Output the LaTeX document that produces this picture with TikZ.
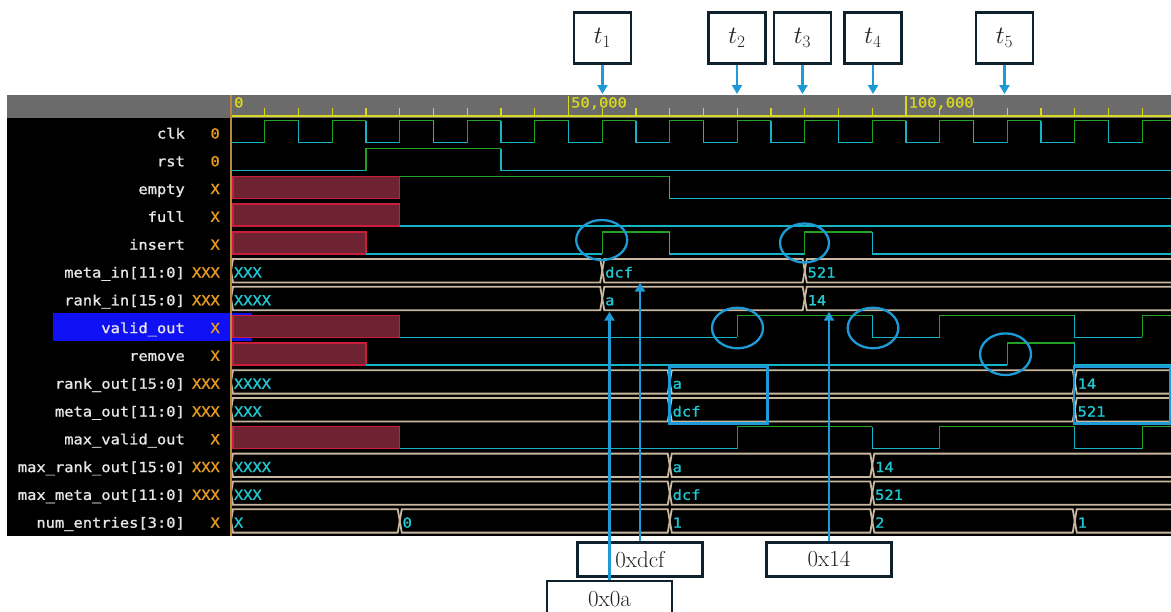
\documentclass[tikz,border=0pt]{standalone}
\usepackage{fontspec}
\newfontfamily\wavefont[FakeStretch=1.1,FakeBold=1.2]{DejaVu Sans Mono}
\usetikzlibrary{arrows.meta,shapes.geometric}

\definecolor{rulerC}{HTML}{6B6B6B}
\definecolor{tickC}{HTML}{D8D820}
\definecolor{sepC}{HTML}{B8863C}
\definecolor{hiC}{HTML}{22A022}
\definecolor{loC}{HTML}{14B4C6}
\definecolor{busC}{HTML}{C8B8A0}
\definecolor{valC}{HTML}{22C6D0}
\definecolor{xfillC}{HTML}{6E2232}
\definecolor{xlineC}{HTML}{C81E3C}
\definecolor{nameC}{HTML}{E6E6E6}
\definecolor{stateC}{HTML}{E89A1E}
\definecolor{selC}{HTML}{1010F4}
\definecolor{markC}{HTML}{1E9AD6}
\definecolor{boxC}{HTML}{10212E}
\definecolor{callC}{HTML}{222222}

\tikzset{
  hi/.style={draw=hiC, line width=1.4pt},
  lo/.style={draw=loC, line width=1.4pt},
  busline/.style={draw=busC, line width=1.8pt, line join=miter},
  busval/.style={text=valC, font=\wavefont\fontsize{14}{15}\selectfont, anchor=base west, inner sep=0pt},
  xbox/.style={fill=xfillC, draw=xlineC, line width=1.3pt},
  signame/.style={text=nameC, font=\wavefont\fontsize{14}{15}\selectfont, anchor=base east, inner sep=0pt},
  sigstate/.style={text=stateC, font=\wavefont\fontsize{14}{15}\selectfont, anchor=base east, inner sep=0pt},
  rulerlbl/.style={text=tickC, font=\wavefont\fontsize{14}{15}\selectfont, anchor=base west, inner sep=0pt},
  tlabel/.style={draw=boxC, line width=2.8pt, fill=white, minimum width=57pt, minimum height=51pt, inner sep=0pt, text=callC, font=\fontsize{25}{28}\selectfont},
  vlabel/.style={draw=boxC, line width=2.8pt, fill=white, minimum width=125pt, minimum height=34pt, inner sep=0pt, text=callC, font=\fontsize{23}{26}\selectfont},
  marker/.style={draw=markC, line width=2.5pt, -{Triangle[length=9pt,width=10pt]}},
  ring/.style={ellipse, draw=markC, line width=2.3pt, inner sep=0pt},
  frame/.style={rectangle, draw=markC, line width=2.6pt, inner sep=0pt},
}

% digital trace: start/kind/end; kind 0 = fall+low, 1 = rise+high, 2 = low, 3 = high
\newcommand\digi[2]{%
  \foreach \ta/\kd/\tb in {#2}{%
    \ifcase\kd
      \draw[lo] (\ta,#1-11) -- (\ta,#1+11) -- (\tb,#1+11);
    \or
      \draw[hi] (\ta,#1+11) -- (\ta,#1-11) -- (\tb,#1-11);
    \or
      \draw[lo] (\ta,#1+11) -- (\tb,#1+11);
    \or
      \draw[hi] (\ta,#1-11) -- (\tb,#1-11);
    \fi}}

% bus trace: name, centre, start/end/value
\newcommand\bus[3]{%
  \foreach \ta/\tb/\txt in {#3}{%
    \draw[busline] (\ta,#2) -- (\ta+0.3,#2-11.7) -- (\tb-0.3,#2-11.7) -- (\tb,#2)
      -- (\tb-0.3,#2+11.7) -- (\ta+0.3,#2+11.7) -- cycle;
    \node[busval] (#1\ta) at (\ta+0.4,#2+6.8) {\txt};}}

\begin{document}
\begin{tikzpicture}[x=1pt,y=-1pt]
\useasboundingbox (0,0) rectangle (1171,611);
\fill[white] (0,0) rectangle (1171,611);

% viewer panel
\fill[rulerC] (7,95) rectangle (1171,118);
\fill[black] (7,118) rectangle (1171,536);
\fill[selC] (53,313.3) rectangle (252,341);

% traces
\begin{scope}
\clip (231,118) rectangle (1171,536);
\begin{scope}[xshift=231pt, x=6.75pt]
  % clk
  \draw[lo] (0,142.7) -- (5,142.7);
  \foreach \k in {0,...,13}{
    \draw[hi] (5+10*\k,142.7) -- (5+10*\k,120.7) -- (10+10*\k,120.7);
    \draw[lo] (10+10*\k,120.7) -- (10+10*\k,142.7) -- (15+10*\k,142.7);
  }
  % unknown states
  \draw[xbox] (0.3,176.3) rectangle (25,198.3);
  \draw[xbox] (0.3,204.1) rectangle (25,226.1);
  \draw[xbox] (0.3,231.9) rectangle (20,253.9);
  \draw[xbox] (0.3,315.3) rectangle (25,337.3);
  \draw[xbox] (0.3,343.1) rectangle (20,365.1);
  \draw[xbox] (0.3,426.5) rectangle (25,448.5);
  % single-bit signals
  \digi{159.5}{0/2/20, 20/1/40, 40/0/140}
  \digi{187.3}{25/3/65, 65/0/140}
  \digi{215.1}{25/2/140}
  \digi{242.9}{20/2/55, 55/1/65, 65/0/85, 85/1/95, 95/0/140}
  \digi{326.3}{25/2/75, 75/1/95, 95/0/105, 105/1/125, 125/0/135, 135/1/140}
  \digi{354.1}{20/2/115, 115/1/125, 125/0/140}
  \digi{437.5}{25/2/75, 75/1/95, 95/0/105, 105/1/125, 125/0/135, 135/1/140}
  % buses
  \bus{mi}{270.7}{0/55/XXX, 55/85/dcf, 85/140/521}
  \bus{ri}{298.5}{0/55/XXXX, 55/85/a, 85/140/14}
  \bus{ro}{381.9}{0/65/XXXX, 65/125/a, 125/140/14}
  \bus{mo}{409.7}{0/65/XXX, 65/125/dcf, 125/140/521}
  \bus{mr}{465.3}{0/65/XXXX, 65/95/a, 95/140/14}
  \bus{mm}{493.1}{0/65/XXX, 65/95/dcf, 95/140/521}
  \bus{ne}{520.9}{0/25/X, 25/65/0, 65/95/1, 95/125/2, 125/140/1}
\end{scope}
\end{scope}

% time ruler
\draw[tickC, line width=2pt] (231,115.5) -- (1171,115.5);
\foreach \k in {1,...,27}{
  \draw[tickC, line width=1.3pt] ({231+33.75*\k},108) -- ++(0,7);
}
\draw[tickC, line width=1.3pt] (568.5,96) -- (568.5,115);
\draw[tickC, line width=1.3pt] (906,96) -- (906,115);
\node[rulerlbl] (r0) at (234,107.5) {0};
\node[rulerlbl] (r50) at (571,107.5) {50,000};
\node[rulerlbl] (r100) at (908.5,107.5) {100,000};
\draw[sepC, line width=1.5pt] (231,95) -- (231,536);

% signal names and states
\foreach \i/\nm/\st in {
  0/clk/0, 1/rst/0, 2/empty/X, 3/full/X, 4/insert/X,
  5/meta\_in[11:0]/XXX, 6/rank\_in[15:0]/XXX, 7/valid\_out/X, 8/remove/X,
  9/rank\_out[15:0]/XXX, 10/meta\_out[11:0]/XXX, 11/max\_valid\_out/X,
  12/max\_rank\_out[15:0]/XXX, 13/max\_meta\_out[11:0]/XXX, 14/num\_entries[3:0]/X}{
  \node[signame] (n\i) at (185,131.7+27.8*\i+6.8) {\nm};
  \node[sigstate] (s\i) at (220,131.7+27.8*\i+6.8) {\st};
}

% time markers
\node[tlabel] (t1) at (602.5,38) {$t_1$};
\node[tlabel] (t2) at (737,38) {$t_2$};
\node[tlabel] (t3) at (802.5,38) {$t_3$};
\node[tlabel] (t4) at (873,38) {$t_4$};
\node[tlabel] (t5) at (1004.5,38) {$t_5$};
\coordinate (t1p) at (602.5,94);
\coordinate (t2p) at (737,94);
\coordinate (t3p) at (802.5,94);
\coordinate (t4p) at (873,94);
\coordinate (t5p) at (1004.5,94);
\foreach \j in {1,...,5}{\draw[marker] (t\j.south) -- (t\j p);}

% highlighted edges
\node[ring, minimum width=51pt, minimum height=40pt] (e1) at (601.7,240) {};
\node[ring, minimum width=49pt, minimum height=39pt] (e2) at (804.5,243) {};
\node[ring, minimum width=51pt, minimum height=40.6pt] (e3) at (737.5,328) {};
\node[ring, minimum width=50.6pt, minimum height=40.6pt] (e4) at (873,328) {};
\node[ring, minimum width=51pt, minimum height=41.6pt] (e5) at (1005.5,354.2) {};

% highlighted outputs
\node[frame, minimum width=98pt, minimum height=56.6pt] (f1) at (718.3,395) {};
\node[frame, minimum width=96pt, minimum height=56.6pt] (f2) at (1122,395) {};

% value call-outs
\node[vlabel] (vdcf) at (640,559.2) {0xdcf};
\node[vlabel] (v14) at (829,559.2) {0x14};
\node[vlabel, minimum height=37pt] (v0a) at (609.5,599.5) {0x0a};
\coordinate (pdcf) at (640,282.7);
\coordinate (p14) at (829,311.7);
\coordinate (p0a) at (609.5,311.7);
\draw[marker] (vdcf.north) -- (pdcf);
\draw[marker] (v14.north) -- (p14);
\draw[marker] (v0a.north) -- (p0a);
\end{tikzpicture}
\end{document}
